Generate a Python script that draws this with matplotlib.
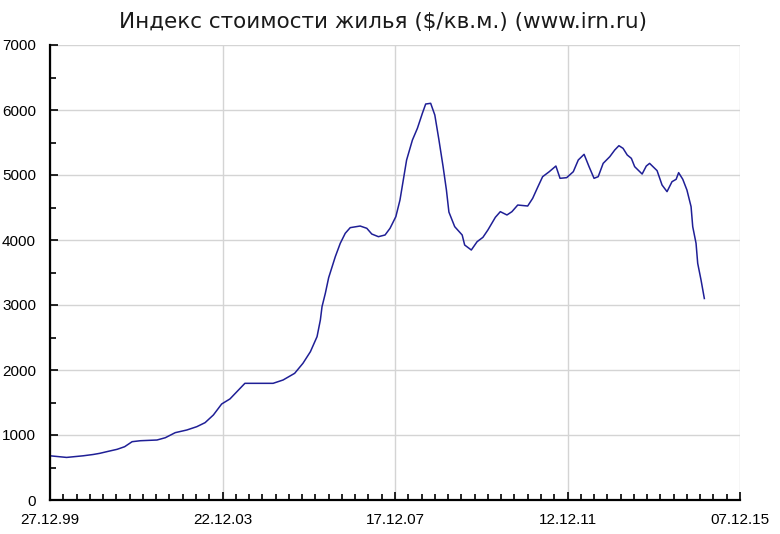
import matplotlib
matplotlib.use("Agg")
import matplotlib.pyplot as plt
import matplotlib.dates as mdates
from matplotlib.ticker import FixedLocator, MultipleLocator
import numpy as np
import pandas as pd


PLT_TITLE = "Индекс стоимости жилья ($/кв.м.) (www.irn.ru)"

START_DATE = "1999-12-27"
TICK_LABELS = ["27.12.99", "22.12.03", "17.12.07", "12.12.11", "07.12.15"]

# weeks since 27.12.99 and price in $ per sq.m.
weeks = [0, 20, 40, 52, 60, 70, 81, 90, 99, 109, 129, 139, 151, 165, 177, 187,
         197, 207, 217, 235, 269, 281, 295, 305, 314, 322, 326, 328, 332, 336,
         344, 350, 356, 362, 374, 382, 388, 396, 404, 410, 417, 422, 426, 430,
         437, 443, 449, 453, 459, 464, 469, 474, 478, 481, 488, 497, 500, 508,
         515, 522, 528, 537, 543, 551, 557, 564, 576, 582, 588, 594, 602, 610,
         615, 623, 631, 637, 644, 650, 656, 661, 667, 675, 681, 686, 691, 696,
         701, 705, 714, 719, 723, 732, 738, 744, 750, 755, 758, 763, 768, 773,
         775, 779, 781, 785, 789]
price = [680, 655, 680, 700, 718, 748, 780, 820, 897, 912, 923, 958, 1036, 1077,
         1128, 1190, 1308, 1477, 1555, 1795, 1795, 1846, 1949, 2103, 2282, 2513,
         2769, 2974, 3180, 3420, 3743, 3949, 4103, 4190, 4215, 4180, 4092, 4051,
         4077, 4180, 4359, 4615, 4923, 5231, 5538, 5718, 5949, 6092, 6103, 5923,
         5538, 5128, 4769, 4430, 4205, 4077, 3923, 3846, 3974, 4041, 4154, 4349,
         4436, 4385, 4436, 4538, 4523, 4641, 4810, 4974, 5051, 5138, 4949, 4959,
         5051, 5231, 5318, 5128, 4949, 4974, 5179, 5282, 5385, 5451, 5410, 5308,
         5256, 5128, 5015, 5138, 5179, 5067, 4846, 4744, 4897, 4934, 5036, 4934,
         4769, 4513, 4205, 3949, 3641, 3385, 3100]


def main():
    start = pd.Timestamp(START_DATE)
    dates = start + pd.to_timedelta(np.array(weeks) * 7, unit="D")
    major = [mdates.date2num(start + pd.Timedelta(days=1456 * k)) for k in range(len(TICK_LABELS))]
    minor = [mdates.date2num(start + pd.Timedelta(days=112 * k)) for k in range(53)]

    fig = plt.figure(figsize=(7.8, 5.34), dpi=100)
    ax = fig.add_axes([50 / 780, 34 / 534, 690 / 780, 455 / 534])

    ax.plot(mdates.date2num(dates), price, color="#1f1f96", linewidth=1.1, zorder=3)

    ax.set_xlim(major[0], major[-1])
    ax.set_ylim(0, 7000)
    ax.xaxis.set_major_locator(FixedLocator(major))
    ax.xaxis.set_minor_locator(FixedLocator(minor))
    ax.set_xticklabels(TICK_LABELS)
    ax.yaxis.set_major_locator(MultipleLocator(1000))
    ax.yaxis.set_minor_locator(MultipleLocator(500))

    ax.grid(True, which="major", color="#d4d4d4", linewidth=1.0, zorder=0)
    for side in ("top", "right"):
        ax.spines[side].set_visible(False)
    for side in ("left", "bottom"):
        ax.spines[side].set_linewidth(1.6)
        ax.spines[side].set_zorder(4)

    ax.tick_params(which="both", direction="in", color="black", width=1.2)
    ax.tick_params(which="major", length=6)
    ax.tick_params(which="minor", length=4)
    ax.tick_params(axis="y", which="major", pad=10)
    ax.tick_params(axis="x", which="major", pad=9)
    for lbl in ax.get_xticklabels() + ax.get_yticklabels():
        lbl.set_fontfamily("Liberation Sans")
        lbl.set_fontsize(11)

    fig.text(383 / 780, 1 - 22 / 534, PLT_TITLE, ha="center", va="center",
             fontsize=15.5, color="#1a1a1a", family="DejaVu Sans")

    fig.savefig("out.png", dpi=100)


if __name__ == "__main__":
    main()
